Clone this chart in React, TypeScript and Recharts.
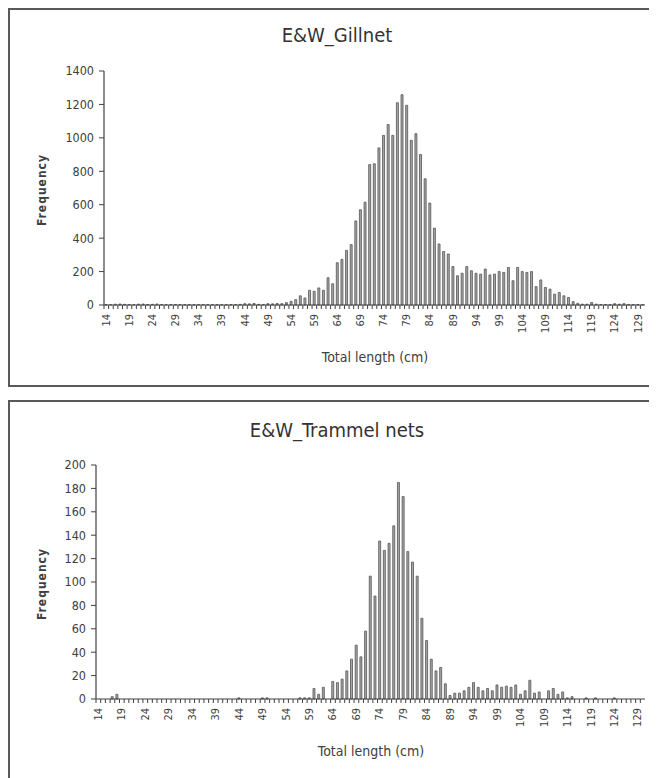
import React from 'react';
import { BarChart, Bar, XAxis, YAxis } from 'recharts';

// length classes (cm)
const lengths = [
  14, 15, 16, 17, 18, 19, 20, 21, 22, 23,
  24, 25, 26, 27, 28, 29, 30, 31, 32, 33,
  34, 35, 36, 37, 38, 39, 40, 41, 42, 43,
  44, 45, 46, 47, 48, 49, 50, 51, 52, 53,
  54, 55, 56, 57, 58, 59, 60, 61, 62, 63,
  64, 65, 66, 67, 68, 69, 70, 71, 72, 73,
  74, 75, 76, 77, 78, 79, 80, 81, 82, 83,
  84, 85, 86, 87, 88, 89, 90, 91, 92, 93,
  94, 95, 96, 97, 98, 99, 100, 101, 102, 103,
  104, 105, 106, 107, 108, 109, 110, 111, 112, 113,
  114, 115, 116, 117, 118, 119, 120, 121, 122, 123,
  124, 125, 126, 127, 128, 129, 130,
];

const gillnet = [
  3, 2, 5, 6, 4, 3, 2, 5, 6, 3,
  4, 6, 3, 2, 2, 3, 2, 2, 3, 2,
  2, 3, 2, 2, 3, 2, 2, 3, 2, 4,
  8, 7, 9, 4, 3, 8, 7, 9, 8, 14,
  22, 32, 55, 42, 88, 82, 102, 88, 163, 127,
  253, 273, 327, 361, 503, 570, 615, 840, 845, 940,
  1015, 1080, 1015, 1210, 1258, 1195, 985, 1025, 900, 755,
  610, 460, 365, 320, 305, 230, 175, 190, 230, 205,
  190, 185, 215, 180, 185, 200, 195, 225, 145, 225,
  200, 195, 200, 110, 150, 105, 95, 65, 75, 55,
  45, 20, 10, 5, 5, 15, 5, 3, 3, 2,
  8, 5, 8, 3, 3, 3, 2,
];

const trammel = [
  0, 0, 0, 2, 4, 0, 0, 0, 0, 0,
  0, 0, 0, 0, 0, 0, 0, 0, 0, 0,
  0, 0, 0, 0, 0, 0, 0, 0, 0, 0,
  1, 0, 0, 0, 0, 1, 1, 0, 0, 0,
  0, 0, 0, 1, 1, 1, 9, 4, 10, 0,
  15, 14, 17, 24, 34, 46, 36, 58, 105, 88,
  135, 127, 133, 148, 185, 173, 126, 117, 105, 69,
  50, 34, 24, 27, 13, 3, 5, 5, 7, 10,
  14, 10, 7, 9, 7, 12, 10, 11, 10, 12,
  4, 7, 16, 5, 6, 0, 7, 9, 4, 6,
  1, 2, 0, 0, 1, 0, 1, 0, 0, 0,
  1, 0, 0, 0, 0, 0, 0,
];

const gillTicks = [0, 200, 400, 600, 800, 1000, 1200, 1400];
const trammelTicks = [0, 20, 40, 60, 80, 100, 120, 140, 160, 180, 200];

const FONT = "'Liberation Sans Narrow', 'DejaVu Sans Condensed', 'Open Sans', sans-serif";
const INK = '#404040';

const toRows = (vals: number[]) => lengths.map((l, i) => ({ len: l, n: vals[i] }));

function LengthTick(props: any) {
  const { x, y, payload, band } = props;
  const v = Number(payload.value);
  const showLabel = (v - 14) % 5 === 0;
  const ty = y + 9;
  return (
    <g>
      <line x1={x - band / 2} x2={x - band / 2} y1={y} y2={y + 4} stroke={INK} strokeWidth={1} />
      {showLabel && (
        <text
          x={x}
          y={ty}
          transform={`rotate(-90, ${x}, ${ty})`}
          textAnchor="end"
          dominantBaseline="central"
          fontSize={11}
          fill={INK}
          fontFamily={FONT}
        >
          {v}
        </text>
      )}
    </g>
  );
}

interface PanelProps {
  title: string;
  values: number[];
  ticks: number[];
  top: number;
  height: number;
  yWidth: number;
  plotTop: number;
  plotBottom: number;
  titleY: number;
  xTitle: { x: number; y: number };
}

function Panel({ title, values, ticks, top, height, yWidth, plotTop, plotBottom, titleY, xTitle }: PanelProps) {
  const width = 649;
  const right = 12;
  const band = (width - yWidth - right) / lengths.length;
  const data = toRows(values);
  return (
    <div
      style={{
        position: 'absolute',
        left: 0,
        top,
        width: 670,
        height,
        border: '2px solid #595959',
        boxSizing: 'border-box',
      }}
    >
      <div style={{ position: 'absolute', left: -2, top: -2 }}>
        <BarChart
          width={width}
          height={height}
          data={data}
          margin={{ top: plotTop, right, bottom: 0, left: 0 }}
          barCategoryGap="24%"
        >
          <XAxis
            dataKey="len"
            interval={0}
            tickLine={false}
            tickSize={0}
            tickMargin={0}
            height={height - plotBottom}
            axisLine={{ stroke: INK, strokeWidth: 1.2 }}
            tick={<LengthTick band={band} />}
          />
          <YAxis
            width={yWidth}
            domain={[0, ticks[ticks.length - 1]]}
            ticks={ticks}
            interval={0}
            tickSize={5}
            tickMargin={5}
            axisLine={{ stroke: INK, strokeWidth: 1.2 }}
            tickLine={{ stroke: INK }}
            tick={{ fontSize: 12.5, fill: INK, fontFamily: FONT }}
          />
          <Bar dataKey="n" fill="#a6a6a6" stroke="#555555" strokeWidth={0.8} isAnimationActive={false} />
        </BarChart>
      </div>
      <div
        style={{
          position: 'absolute',
          left: 327,
          top: titleY,
          transform: 'translate(-50%, -50%)',
          fontFamily: FONT,
          fontSize: 20,
          color: '#333',
          whiteSpace: 'nowrap',
        }}
      >
        {title}
      </div>
      <div
        style={{
          position: 'absolute',
          left: 32,
          top: (plotTop + plotBottom) / 2,
          transform: 'translate(-50%, -50%) rotate(-90deg)',
          fontFamily: FONT,
          fontSize: 12,
          fontWeight: 'bold',
          letterSpacing: 1,
          color: INK,
          whiteSpace: 'nowrap',
        }}
      >
        Frequency
      </div>
      <div
        style={{
          position: 'absolute',
          left: xTitle.x,
          top: xTitle.y,
          transform: 'translate(-50%, -50%)',
          fontFamily: FONT,
          fontSize: 14,
          color: INK,
          whiteSpace: 'nowrap',
        }}
      >
        Total length (cm)
      </div>
    </div>
  );
}

export default function App() {
  return (
    <div style={{ position: 'relative', width: 649, height: 770, overflow: 'hidden' }}>
      <Panel
        title="E&W_Gillnet"
        values={gillnet}
        ticks={gillTicks}
        top={0}
        height={379}
        yWidth={96}
        plotTop={63}
        plotBottom={297}
        titleY={25}
        xTitle={{ x: 365, y: 347 }}
      />
      <Panel
        title="E&W_Trammel nets"
        values={trammel}
        ticks={trammelTicks}
        top={392}
        height={400}
        yWidth={88}
        plotTop={65}
        plotBottom={299}
        titleY={28}
        xTitle={{ x: 361, y: 349 }}
      />
    </div>
  );
}
